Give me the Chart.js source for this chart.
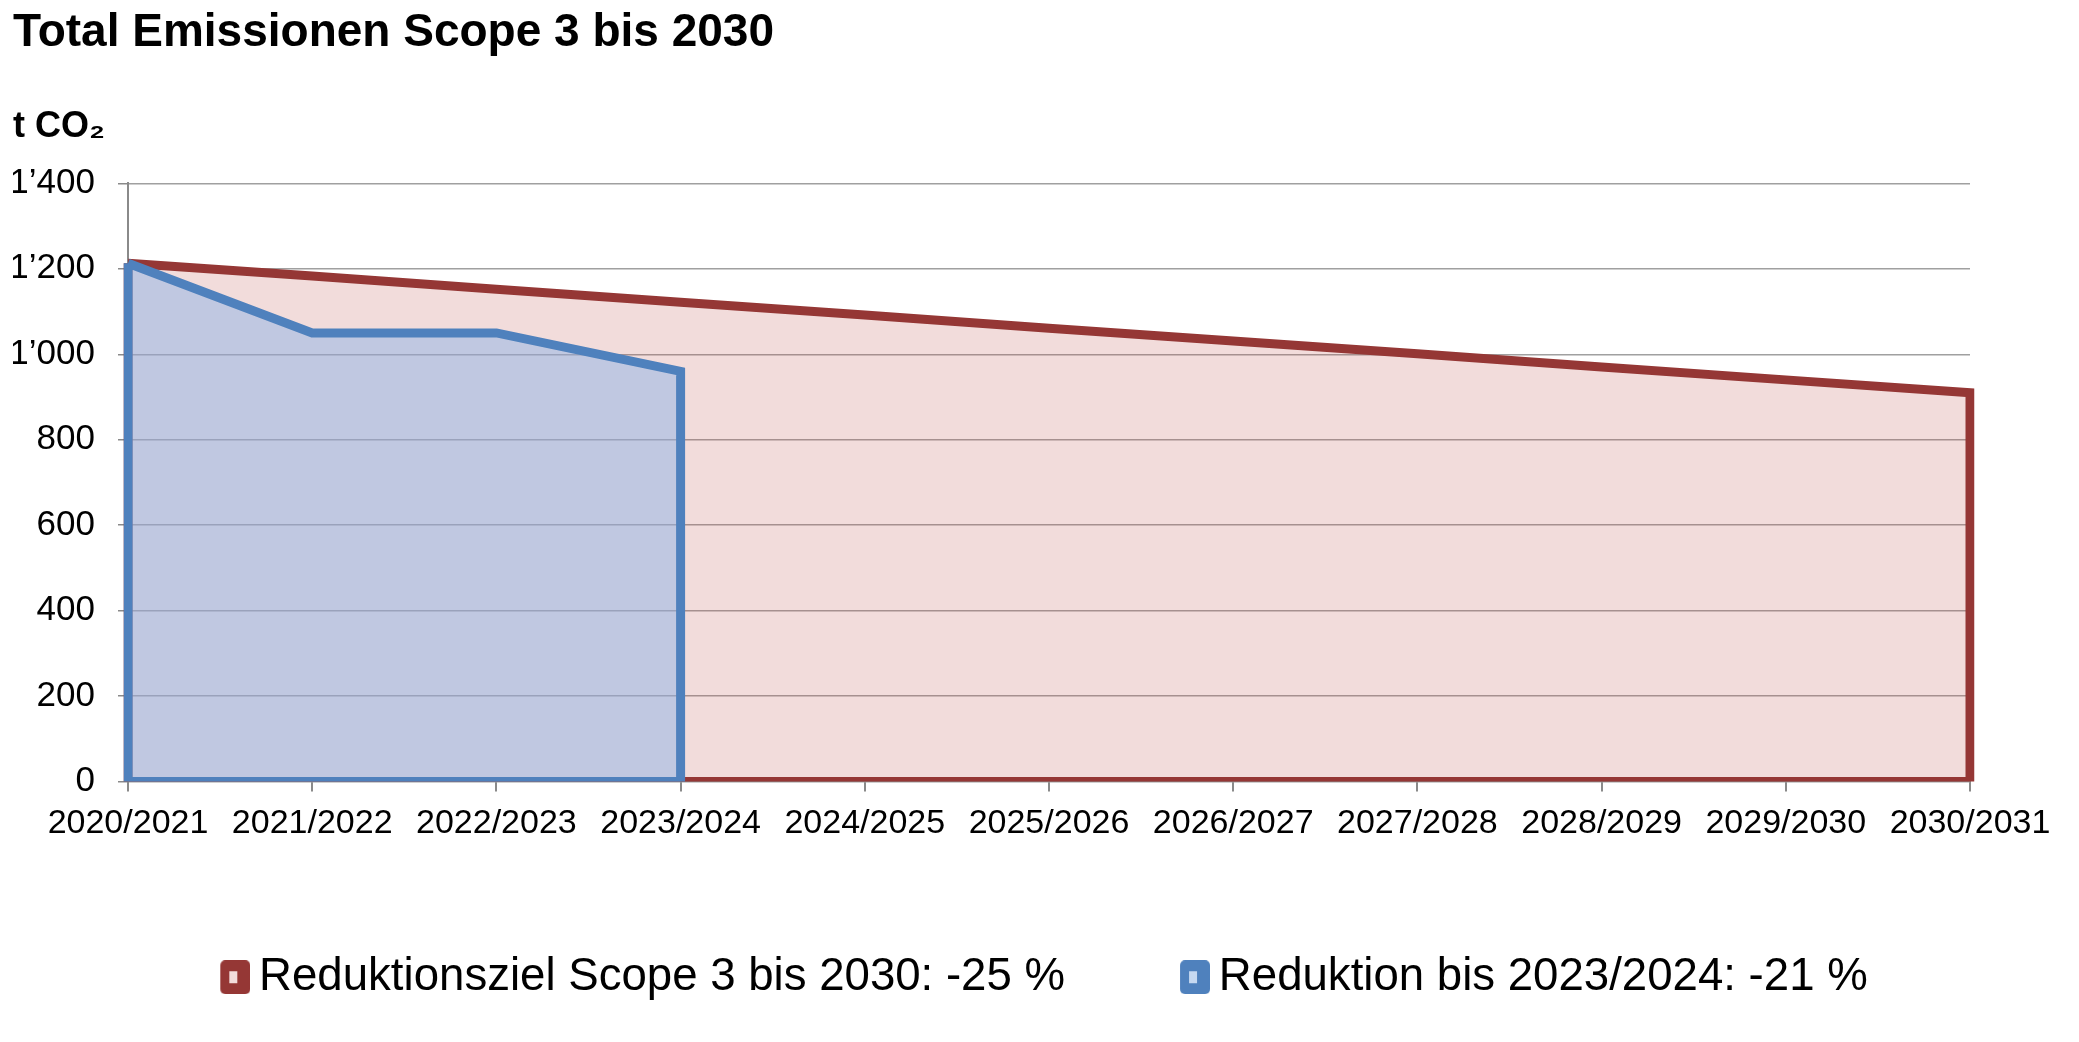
<!DOCTYPE html>
<html>
<head>
<meta charset="utf-8">
<script src="https://cdn.jsdelivr.net/npm/chart.js@4"></script>
<style>
  html, body { margin: 0; padding: 0; background: #fff; }
</style>
</head>
<body>
<canvas id="emissionenChart" width="2079" height="1042"></canvas>
<script>
// Daten
const jahre = ["2020/2021", "2021/2022", "2022/2023", "2023/2024", "2024/2025", "2025/2026",
               "2026/2027", "2027/2028", "2028/2029", "2029/2030", "2030/2031"];
const reduktionsziel = [1213, 1183, 1152, 1122, 1092, 1061, 1031, 1001, 970, 940, 910]; // t CO2
const reduktionIst = [1213, 1050, 1050, 960]; // bis 2023/2024
const yTicks = [0, 200, 400, 600, 800, 1000, 1200, 1400];

const schrift = "'Liberation Sans', Arial, sans-serif";

// geschlossene Fläche: Linie, runter auf 0, zurück zum Anfang
function umriss(werte) {
    const punkte = werte.map((v, i) => ({ x: jahre[i], y: v }));
    const letzter = werte.length - 1;
    punkte.push({ x: jahre[letzter], y: 0 });
    punkte.push({ x: jahre[0], y: 0 });
    punkte.push({ x: jahre[0], y: werte[0] });
    return punkte;
}

// Legendensymbol wie in Excel (dunkles Kästchen mit hellem Innenteil).
// Breiter transparenter Rand links -> Legende sitzt etwas weiter rechts, wie im Original
function symbol(dunkel, hell) {
    const c = document.createElement('canvas');
    c.width = 149; c.height = 34;
    const g = c.getContext('2d');
    g.fillStyle = dunkel;
    g.beginPath();
    g.roundRect(119, 0, 30, 34, 5);
    g.fill();
    g.fillStyle = hell;
    g.fillRect(128, 11, 8, 12);
    return c;
}

function tausender(v) {
    if (v < 1000) return String(v);
    const rest = String(v % 1000).padStart(3, '0');
    return Math.floor(v / 1000) + '\u2019' + rest;
}

const ctx = document.getElementById('emissionenChart').getContext('2d');
new Chart(ctx, {
    type: 'line',
    data: {
        labels: jahre,
        datasets: [{
            label: 'Reduktionsziel Scope 3 bis 2030: -25 %',
            data: umriss(reduktionsziel),
            borderColor: '#953735',
            backgroundColor: 'rgba(192, 80, 77, 0.2)',
            borderWidth: 9,
            borderJoinStyle: 'miter',
            fill: 'shape',
            tension: 0,
            pointRadius: 0,
            pointStyle: symbol('#953735', '#f2dcdb'),
            order: 2
        }, {
            label: 'Reduktion bis 2023/2024: -21 %',
            data: umriss(reduktionIst),
            borderColor: '#4f81bd',
            backgroundColor: 'rgba(142, 180, 231, 0.5)',
            borderWidth: 9,
            borderJoinStyle: 'miter',
            fill: 'shape',
            tension: 0,
            pointRadius: 0,
            pointStyle: symbol('#4f81bd', '#c6d9f1'),
            order: 1
        }]
    },
    options: {
        responsive: false,
        animation: false,
        events: [],
        layout: { padding: { left: 13, right: 109, top: 0, bottom: 32 } },
        plugins: {
            title: {
                display: true,
                text: 'Total Emissionen Scope 3 bis 2030',
                align: 'start',
                color: '#000',
                font: { family: schrift, size: 46, weight: 'bold' },
                padding: { top: 6, bottom: 44 }
            },
            subtitle: {
                display: true,
                text: 't CO\u2082',
                align: 'start',
                color: '#000',
                font: { family: schrift, size: 36, weight: 'bold' },
                padding: { top: 0, bottom: 35 }
            },
            legend: {
                position: 'bottom',
                labels: {
                    color: '#000',
                    font: { family: schrift, size: 45.6 },
                    usePointStyle: true,
                    pointStyleWidth: 121,
                    boxHeight: 34,
                    padding: 10,
                    sort: (a, b) => a.datasetIndex - b.datasetIndex
                }
            },
            tooltip: { enabled: false }
        },
        scales: {
            x: {
                offset: false,
                afterFit: (scale) => { scale.height = 163; }, // Platz bis zur Legende
                grid: {
                    display: true,
                    drawOnChartArea: false,
                    drawTicks: true,
                    tickLength: 10,
                    color: '#8a8a8a',
                    lineWidth: 2
                },
                border: { color: '#8a8a8a', width: 2 },
                ticks: {
                    color: '#000',
                    font: { family: schrift, size: 34 },
                    padding: 12,
                    maxRotation: 0,
                    autoSkip: false
                }
            },
            y: {
                min: 0,
                max: 1400,
                afterBuildTicks: (scale) => { scale.ticks = yTicks.map(v => ({ value: v })); },
                afterFit: (scale) => { scale.width = 115; },
                grid: {
                    color: '#a0a0a0',
                    lineWidth: 1.5,
                    tickLength: 10,
                    tickColor: '#8a8a8a'
                },
                border: { color: '#8a8a8a', width: 2 },
                ticks: {
                    color: '#000',
                    font: { family: schrift, size: 35 },
                    padding: 23,
                    callback: (v) => tausender(v)
                }
            }
        }
    }
});
</script>
</body>
</html>
